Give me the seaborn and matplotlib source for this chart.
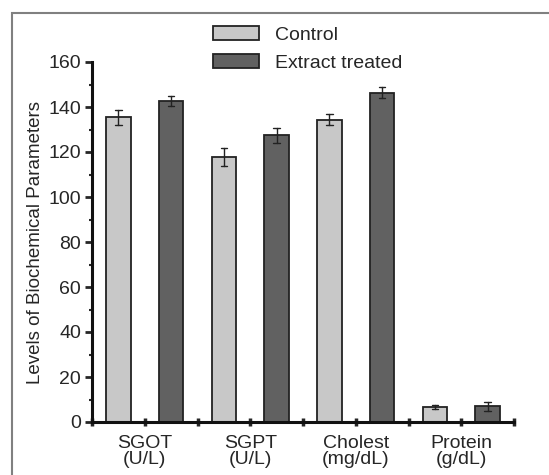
import seaborn as sns
import matplotlib.pyplot as plt
import pandas as pd
import numpy as np
from matplotlib.patches import Rectangle
from matplotlib.ticker import MultipleLocator

# значения
params = ['SGOT\n(U/L)', 'SGPT\n(U/L)', 'Cholest\n(mg/dL)', 'Protein\n(g/dL)']
groups = ['Control', 'Extract treated']
control = [135.5, 117.9, 134.4, 6.7]
control_err = [3.3, 4.1, 2.5, 0.9]
treated = [142.7, 127.5, 146.4, 7.0]
treated_err = [2.4, 3.3, 2.3, 1.9]

# по две строки на столбик: среднее = значение, min/max = границы погрешности
rows = []
for g, vals, errs in [(groups[0], control, control_err), (groups[1], treated, treated_err)]:
    for p, v, e in zip(params, vals, errs):
        rows.append({'param': p, 'group': g, 'value': v - e})
        rows.append({'param': p, 'group': g, 'value': v + e})
df = pd.DataFrame(rows)

sns.set_style('ticks')
plt.rcParams['font.family'] = ['Liberation Sans', 'DejaVu Sans']

fig = plt.figure(figsize=(5.49, 4.75), dpi=100)
ax = fig.add_axes([92 / 549, 1 - 422 / 475, 422 / 549, 360 / 475])

sns.barplot(data=df, x='param', y='value', hue='group', order=params, hue_order=groups,
            palette=['#c8c8c8', '#616161'], width=1.0, gap=0.54,
            errorbar=lambda s: (s.min(), s.max()), capsize=0.12,
            err_kws={'color': '#222222', 'linewidth': 1.0},
            edgecolor='#222222', linewidth=1.3, ax=ax)

ax.set_xlim(-0.5, 3.5)
ax.set_ylim(0, 160)
ax.yaxis.set_major_locator(MultipleLocator(20))
ax.yaxis.set_minor_locator(MultipleLocator(10))
ax.set_xticks(np.arange(-0.5, 3.6, 0.5))
ax.set_xticklabels(['', params[0], '', params[1], '', params[2], '', params[3], ''])
ax.set_xticks(np.arange(-0.25, 3.5, 0.5), minor=True)

sns.despine(ax=ax)
for s in ['left', 'bottom']:
    ax.spines[s].set_linewidth(2.2)
    ax.spines[s].set_color('#111111')
ax.tick_params(axis='y', which='major', direction='out', length=5, width=2, labelsize=14, pad=3)
ax.tick_params(axis='y', which='minor', direction='out', length=2.5, width=1.5)
ax.tick_params(axis='x', which='major', direction='inout', length=6, width=2.5, labelsize=14, pad=6)
ax.tick_params(axis='x', which='minor', direction='in', length=3, width=1)
for lab in ax.get_xticklabels():
    lab.set_linespacing(1.0)

ax.set_xlabel('')
ax.set_ylabel('Levels of Biochemical Parameters', fontsize=13.5, labelpad=3)

ax.legend(loc='upper left', bbox_to_anchor=(213 / 549, 1 - 26 / 475), bbox_transform=fig.transFigure,
          frameon=False, fontsize=14, handlelength=2.35, handleheight=0.72,
          handletextpad=0.85, labelspacing=0.55, borderpad=0, borderaxespad=0)

# серая рамка вокруг рисунка
fig.add_artist(Rectangle((12 / 549, -0.1), 1.0, 1.1 - 13 / 475, transform=fig.transFigure,
                         fill=False, edgecolor='#808080', linewidth=1.5))

plt.savefig('out.png', dpi=100)
